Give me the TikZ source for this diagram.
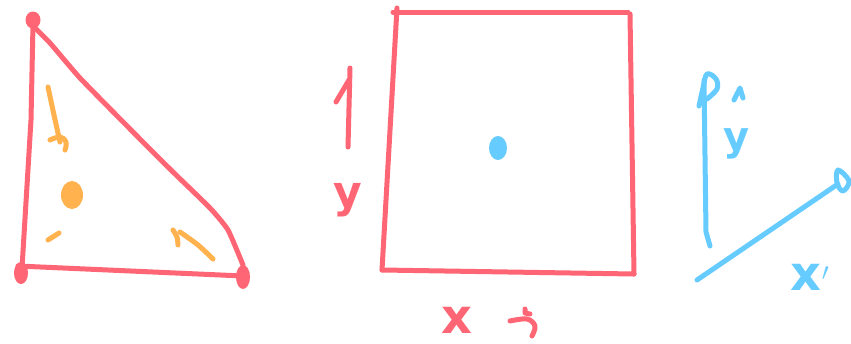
\documentclass[tikz,border=0pt]{standalone}
\usepackage{fontspec}
\setmainfont{DejaVu Sans}
\definecolor{penred}{HTML}{FF6675}
\definecolor{penorange}{HTML}{FFB24D}
\definecolor{penblue}{HTML}{66CCFF}
\begin{document}
\begin{tikzpicture}[x=1pt,y=-1pt,
  pen/.style={line width=5pt,line cap=round,line join=round},
  redpen/.style={pen,draw=penred},
  orangepen/.style={pen,draw=penorange},
  bluepen/.style={pen,draw=penblue},
  lab/.style={inner sep=0pt,anchor=base}]
\useasboundingbox[fill=white] (0,0) rectangle (851,343);
% ---- triangle
\draw[redpen] (33,24) -- (31,120) -- (22,268);
\draw[redpen] plot[smooth,tension=0.3] coordinates {(34,27) (50,43) (80,78) (133,132) (173,172) (210,208) (228,230) (243,265)};
\draw[redpen] (18,266) -- (243,276);
\fill[penred] (33,20) ellipse[x radius=7.5pt,y radius=8.5pt];
\fill[penred] (21,273) ellipse[x radius=7pt,y radius=11pt];
\fill[penred] (243,277) ellipse[x radius=7pt,y radius=12pt];
% orange marks
\draw[orangepen] plot[smooth] coordinates {(48,87) (54,115) (60,142)};
\draw[orangepen] plot[smooth,tension=0.7] coordinates {(50,140) (60,137) (66,142) (65,150)};
\fill[penorange] (72,195) ellipse[x radius=11pt,y radius=14pt];
\draw[orangepen] (48,240) -- (59,233);
\draw[orangepen] plot[smooth] coordinates {(213,259) (198,245) (180,232)};
\draw[orangepen] plot[smooth] coordinates {(173,230) (177,237) (178,245)};
% ---- square
\draw[redpen] (397,8) -- (382,270);
\draw[redpen] (393,12) -- (628,12);
\draw[redpen] (630,14) -- (634,274);
\draw[redpen] (382,270) -- (634,274);
\fill[penblue] (498,148) ellipse[x radius=9pt,y radius=12pt];
% up arrow left of square
\draw[redpen] (350,68) -- (348,147);
\draw[redpen] (336,102) -- (349,80);
\node[lab,text=penred,font=\bfseries\fontsize{44}{44}\selectfont] (ylab) at (348,207) {y};
% right arrow under square
\draw[redpen] plot[smooth,tension=0.6] coordinates {(510,321) (527,319) (535,326) (532,336)};
\draw[redpen] (525,309) -- (525,313) -- (530,314);
\node[lab,text=penred,font=\bfseries\fontsize{48}{48}\selectfont] (xlab) at (457,333) {x};
% ---- blue axes
\draw[bluepen] (710,246) -- (706,232) -- (704,80);
\draw[bluepen] plot[smooth,tension=0.6] coordinates {(699,106) (703,88) (707,74) (716,79) (717,89) (707,99)};
\draw[bluepen] (734,100) -- (740,88) -- (743,98);
\node[lab,text=penblue,font=\bfseries\fontsize{40}{40}\selectfont] (yblue) at (737,150) {y};
\draw[bluepen] (697,280) -- (838,184);
\draw[bluepen] plot[smooth cycle,tension=0.6] coordinates {(838,170) (849,181) (843,191) (837,183)};
\node[lab,text=penblue,font=\bfseries\fontsize{48}{48}\selectfont] (xblue) at (810,290) {x$'$};
\end{tikzpicture}
\end{document}
